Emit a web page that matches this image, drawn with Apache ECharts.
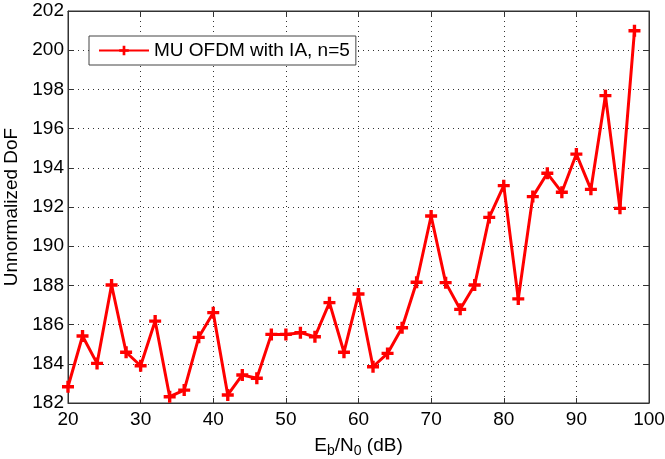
<!DOCTYPE html>
<html><head><meta charset="utf-8">
<script src="https://cdn.jsdelivr.net/npm/echarts@6/dist/echarts.min.js"></script>
<style>html,body{margin:0;padding:0;background:#fff}#c{width:665px;height:459px}</style>
</head><body><div id="c"></div>
<script>
var xValues = [20,22,24,26,28,30,32,34,36,38,40,42,44,46,48,50,52,54,56,58,60,62,64,66,68,70,72,74,76,78,80,82,84,86,88,90,92,94,96,98];
var dofValues = [182.83,185.42,184.02,188.02,184.59,183.9,186.18,182.32,182.66,185.35,186.61,182.41,183.43,183.26,185.5,185.5,185.59,185.38,187.12,184.59,187.56,183.85,184.53,185.84,188.16,191.54,188.14,186.78,188.02,191.47,193.09,187.31,192.53,193.72,192.75,194.7,192.9,197.68,191.93,200.99];
var seriesName = 'MU OFDM with IA, n=5';
var xTicks = [20,30,40,50,60,70,80,90,100];
var yTicks = [182,184,186,188,190,192,194,196,198,200,202];

var font = '"Liberation Sans", Arial, Helvetica, sans-serif';
var plus = 'path://M3.6,0H6.4V3.6H10V6.4H6.4V10H3.6V6.4H0V3.6H3.6Z';
var chart = echarts.init(document.getElementById('c'), null, {renderer:'canvas'});
var data = xValues.map(function(x,i){return [x, dofValues[i]];});
var gridLine = {show:true, lineStyle:{color:'#333', type:[1,4], width:1}};
chart.setOption({
  animation:false,
  backgroundColor:'#fff',
  grid:{left:68, right:16, top:11, bottom:56, show:true, borderColor:'#333', borderWidth:1, containLabel:false, outerBoundsMode:'none'},
  legend:{
    data:[seriesName],
    left:89, top:36, orient:'vertical',
    backgroundColor:'#fff', borderColor:'#444', borderWidth:1, borderRadius:0,
    padding:[5,6,5,9], itemWidth:50, itemHeight:12, itemGap:4,
    textStyle:{fontFamily:font, fontSize:19, color:'#000'}
  },
  xAxis:[{
    type:'value', min:xTicks[0], max:xTicks[xTicks.length-1], interval:10,
    axisLine:{show:true, lineStyle:{color:'#333'}},
    axisTick:{show:true, inside:true, length:5, lineStyle:{color:'#333'}},
    axisLabel:{fontFamily:font, fontSize:19, color:'#000', margin:7},
    splitLine:gridLine,
    name:'{n|E}{s|b}{n|/N}{s|0}{n| (dB)}', nameLocation:'middle', nameGap:31,
    nameTextStyle:{rich:{n:{fontFamily:font, fontSize:19, color:'#000'}, s:{fontFamily:font, fontSize:14, color:'#000', verticalAlign:'bottom', padding:[10,0,0,0]}}}
  },{
    type:'value', position:'top', min:xTicks[0], max:xTicks[xTicks.length-1], interval:10,
    axisLine:{show:true, lineStyle:{color:'#333'}},
    axisTick:{show:true, inside:true, length:5, lineStyle:{color:'#333'}},
    axisLabel:{show:false}, splitLine:{show:false}
  }],
  yAxis:[{
    type:'value', min:yTicks[0], max:yTicks[yTicks.length-1], interval:2,
    axisLine:{show:true, lineStyle:{color:'#333'}},
    axisTick:{show:true, inside:true, length:5, lineStyle:{color:'#333'}},
    axisLabel:{fontFamily:font, fontSize:19, color:'#000', margin:4},
    splitLine:gridLine,
    name:'Unnormalized DoF', nameLocation:'middle', nameGap:39,
    nameTextStyle:{fontFamily:font, fontSize:19, color:'#000'}
  },{
    type:'value', position:'right', min:yTicks[0], max:yTicks[yTicks.length-1], interval:2,
    axisLine:{show:true, lineStyle:{color:'#333'}},
    axisTick:{show:true, inside:true, length:5, lineStyle:{color:'#333'}},
    axisLabel:{show:false}, splitLine:{show:false}
  }],
  series:[{
    name:seriesName, type:'line', data:data,
    symbol:plus, symbolSize:12, showSymbol:true,
    lineStyle:{color:'#ff0000', width:3},
    itemStyle:{color:'#ff0000', borderWidth:0},
    z:5
  }]
});
</script></body></html>
